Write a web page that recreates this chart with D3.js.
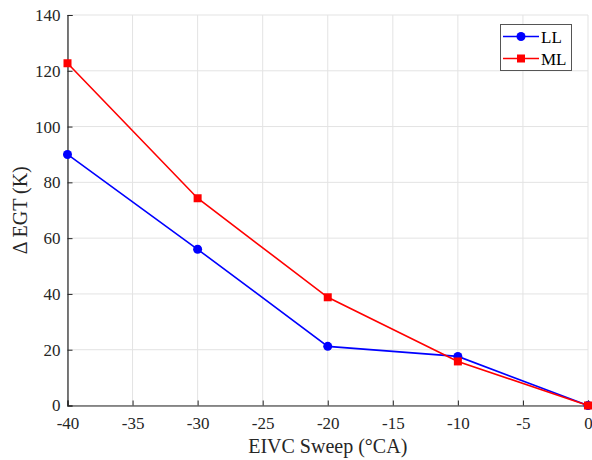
<!DOCTYPE html>
<html><head><meta charset="utf-8">
<script src="https://cdn.jsdelivr.net/npm/d3@7"></script>
<style>body{margin:0;background:#fff}svg{display:block}
svg text{font-family:"Liberation Serif","Times New Roman",Times,"DejaVu Serif",serif !important}</style>
</head><body>
<script>
const xValues = [-40, -30, -20, -10, 0];
const llValues = [90.0, 56.0, 21.2, 17.6, 0.0];
const mlValues = [122.7, 74.3, 38.8, 15.8, 0.0];
const xTicks = [-40, -35, -30, -25, -20, -15, -10, -5, 0];
const yTicks = [0, 20, 40, 60, 80, 100, 120, 140];
const seriesNames = ["LL", "ML"];

const FONT = '"Liberation Serif", "Times New Roman", Times, serif';
const W = 592, H = 460;
const svg = d3.select("body").append("svg").attr("width", W).attr("height", H)
  .attr("font-family", FONT);
const x = d3.scaleLinear().domain([-40, 0]).range([67.5, 588]);
const y = d3.scaleLinear().domain([0, 140]).range([405.5, 15]);

// grid
svg.append("g").selectAll("line").data(xTicks).join("line")
  .attr("x1", d => x(d)).attr("x2", d => x(d)).attr("y1", y(0)).attr("y2", y(140))
  .attr("stroke", "#e3e3e3").attr("stroke-width", 1);
svg.append("g").selectAll("line").data(yTicks).join("line")
  .attr("x1", x(-40)).attr("x2", x(0)).attr("y1", d => y(d)).attr("y2", d => y(d))
  .attr("stroke", "#e3e3e3").attr("stroke-width", 1);

// axes
const xAxis = svg.append("g").attr("transform", `translate(0,${y(0)})`)
  .call(d3.axisBottom(x).tickValues(xTicks).tickSize(-5).tickPadding(11).tickFormat(d => String(d)));
const yAxis = svg.append("g").attr("transform", `translate(${x(-40)},0)`)
  .call(d3.axisLeft(y).tickValues(yTicks).tickSize(-5).tickPadding(7).tickFormat(d => String(d)));
[xAxis, yAxis].forEach(g => {
  g.attr("font-family", FONT);
  g.select(".domain").attr("stroke", "#262626").attr("stroke-width", 1.2);
  g.selectAll(".tick line").attr("stroke", "#262626");
  g.selectAll(".tick text").attr("font-size", 17).attr("fill", "#262626");
});

// labels
svg.append("text").attr("x", x(-20)).attr("y", 453).attr("text-anchor", "middle")
  .attr("font-size", 20).attr("fill", "#262626").text("EIVC Sweep (°CA)");
svg.append("text").attr("transform", `translate(27,${y(70)}) rotate(-90)`).attr("text-anchor", "middle")
  .attr("font-size", 20).attr("fill", "#262626").text("Δ EGT (K)");

const line = d3.line().x((d, i) => x(xValues[i])).y(d => y(d));
svg.append("path").datum(llValues).attr("d", line).attr("fill", "none").attr("stroke", "#0000ff").attr("stroke-width", 1.6);
svg.append("g").selectAll("circle").data(llValues).join("circle")
  .attr("cx", (d, i) => x(xValues[i])).attr("cy", d => y(d)).attr("r", 4.5).attr("fill", "#0000ff");
svg.append("path").datum(mlValues).attr("d", line).attr("fill", "none").attr("stroke", "#ff0000").attr("stroke-width", 1.6);
svg.append("g").selectAll("rect").data(mlValues).join("rect")
  .attr("x", (d, i) => x(xValues[i]) - 4).attr("y", d => y(d) - 4).attr("width", 8).attr("height", 8).attr("fill", "#ff0000");

// legend
const lg = svg.append("g");
lg.append("rect").attr("x", 500.5).attr("y", 24.5).attr("width", 71).attr("height", 46)
  .attr("fill", "#fff").attr("stroke", "#555").attr("stroke-width", 1);
const colors = ["#0000ff", "#ff0000"];
seriesNames.forEach((n, i) => {
  const yy = 36.5 + i * 22;
  lg.append("line").attr("x1", 503).attr("x2", 539).attr("y1", yy).attr("y2", yy).attr("stroke", colors[i]).attr("stroke-width", 1.6);
  if (i === 0) lg.append("circle").attr("cx", 521).attr("cy", yy).attr("r", 4.5).attr("fill", colors[i]);
  else lg.append("rect").attr("x", 517).attr("y", yy - 4).attr("width", 8).attr("height", 8).attr("fill", colors[i]);
  lg.append("text").attr("x", 541).attr("y", yy + 6).attr("font-size", 17).attr("fill", "#000").text(n);
});
</script>
</body></html>
